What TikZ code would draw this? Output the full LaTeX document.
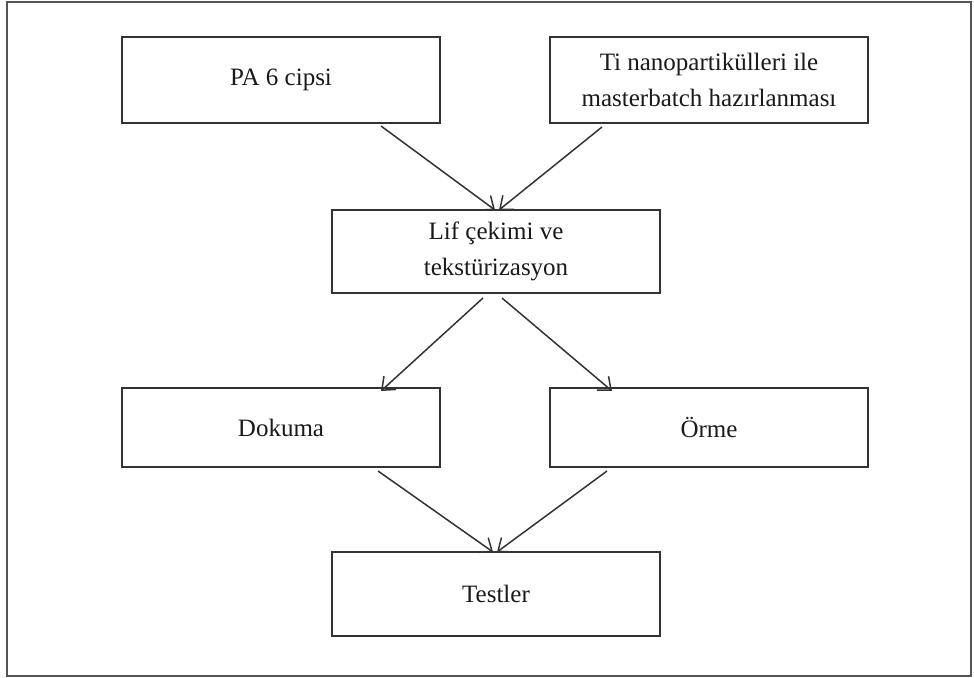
\documentclass[tikz,border=0pt]{standalone}
\usepackage{fontspec}
\setmainfont{Liberation Serif}
\usetikzlibrary{arrows.meta,calc}
\definecolor{linec}{HTML}{333333}
\definecolor{framec}{HTML}{555555}
\definecolor{textc}{HTML}{1A1A1A}
\begin{document}
\begin{tikzpicture}[x=1pt,y=-1pt,
  box/.style={draw=linec,line width=2pt,fill=white,rectangle,inner sep=0pt,
    minimum width=318pt,minimum height=83pt,align=center,text=textc,
    font=\fontsize{25}{36}\selectfont},
  wide/.style={minimum width=328pt},
  conn/.style={draw=linec,line width=1.5pt,-{Straight Barb[length=11pt,width=18pt,line width=1.5pt]}}]
\useasboundingbox (0,0) rectangle (974,677);
\draw[framec,line width=2.5pt] (7,2) rectangle (971,676);
\node[box,minimum height=86pt] (pa) at (281,80) {PA 6 cipsi};
\node[box,minimum height=86pt] (ti) at (709,80) {Ti nanopartikülleri ile\\masterbatch hazırlanması};
\node[box,wide] (lif) at (496,251.5) {Lif çekimi ve\\tekstürizasyon};
\node[box,minimum height=79pt] (dok) at (281,427.5) {Dokuma};
\node[box,minimum height=79pt] (orm) at (709,427.5) {Örme};
\node[box,wide,minimum height=84pt] (tst) at (496,594) {Testler};
\draw[conn] ([xshift=-60pt,yshift=-2pt]pa.south east) -- ([xshift=-1pt,yshift=-1pt]lif.north);
\draw[conn] ([xshift=53pt,yshift=-3pt]ti.south west) -- ([xshift=3pt,yshift=-1pt]lif.north);
\draw[conn] ([xshift=-13pt,yshift=-4pt]lif.south) -- ([xshift=-60pt,yshift=-4pt]dok.north east);
\draw[conn] ([xshift=6pt,yshift=-4pt]lif.south) -- ([xshift=63pt,yshift=-4pt]orm.north west);
\draw[conn] ([xshift=-63pt,yshift=-3pt]dok.south east) -- ([xshift=-3pt,yshift=-1pt]tst.north);
\draw[conn] ([xshift=58pt,yshift=-3pt]orm.south west) -- ([xshift=1pt,yshift=-1pt]tst.north);
\end{tikzpicture}
\end{document}
